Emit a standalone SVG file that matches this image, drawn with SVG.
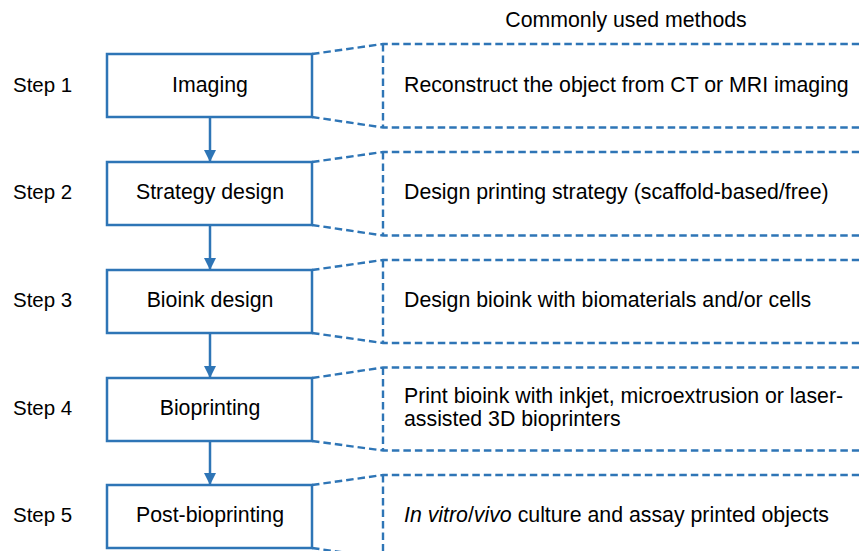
<svg xmlns="http://www.w3.org/2000/svg" width="859" height="551" viewBox="0 0 859 551">
<defs>
<style>
.t{font-family:"Liberation Sans",Arial,sans-serif;font-size:21.3px;fill:#000}
.s{font-size:20.5px}
.m{text-anchor:middle}
.box{fill:#fff;stroke:#2e75b6;stroke-width:2.5}
.d{fill:none;stroke:#2e75b6;stroke-width:2.4;stroke-dasharray:7.5 4}
.c{stroke:#2e75b6;stroke-width:2.5;fill:none}
</style>
<marker id="ah" markerWidth="13" markerHeight="12" refX="12" refY="6.5" orient="auto" markerUnits="userSpaceOnUse" viewBox="0 0 13 13">
<path d="M0,0 L13,6.5 L0,13 Z" fill="#2e75b6"/>
</marker>
</defs>
<rect width="859" height="551" fill="#fff"/>
<text class="t m" x="626" y="27">Commonly used methods</text>
<g id="connectors">
<line class="c" x1="210" y1="117" x2="210" y2="161" marker-end="url(#ah)"/>
<line class="c" x1="210" y1="225" x2="210" y2="269" marker-end="url(#ah)"/>
<line class="c" x1="210" y1="333" x2="210" y2="377" marker-end="url(#ah)"/>
<line class="c" x1="210" y1="441" x2="210" y2="484" marker-end="url(#ah)"/>
</g>
<g id="callouts">
<path class="d" d="M312,54 L383,44 L859,44 M312,117 L383,127.5 L859,127.5 M383,44 L383,127.5"/>
<path class="d" d="M312,162 L383,152 L859,152 M312,225 L383,235.5 L859,235.5 M383,152 L383,235.5"/>
<path class="d" d="M312,270 L383,260 L859,260 M312,333 L383,343 L859,343 M383,260 L383,343"/>
<path class="d" d="M312,378 L383,367.5 L859,367.5 M312,441 L383,450.5 L859,450.5 M383,367.5 L383,450.5"/>
<path class="d" d="M312,485 L383,475 L859,475 M312,548 L383,558 M383,475 L383,560"/>
</g>
<g id="step1">
<text class="t s" x="13" y="92">Step 1</text>
<rect class="box" x="107" y="54" width="205" height="63"/>
<text class="t m" x="210" y="92">Imaging</text>
<text class="t" x="404" y="92">Reconstruct the object from CT or MRI imaging</text>
</g>
<g id="step2">
<text class="t s" x="13" y="199">Step 2</text>
<rect class="box" x="107" y="162" width="205" height="63"/>
<text class="t m" x="210" y="199">Strategy design</text>
<text class="t" x="404" y="199">Design printing strategy (scaffold-based/free)</text>
</g>
<g id="step3">
<text class="t s" x="13" y="307">Step 3</text>
<rect class="box" x="107" y="270" width="205" height="63"/>
<text class="t m" x="210" y="307">Bioink design</text>
<text class="t" x="404" y="307">Design bioink with biomaterials and/or cells</text>
</g>
<g id="step4">
<text class="t s" x="13" y="415">Step 4</text>
<rect class="box" x="107" y="378" width="205" height="63"/>
<text class="t m" x="210" y="415">Bioprinting</text>
<text class="t" x="404" y="403">Print bioink with inkjet, microextrusion or laser-</text>
<text class="t" x="404" y="426">assisted 3D bioprinters</text>
</g>
<g id="step5">
<text class="t s" x="13" y="522">Step 5</text>
<rect class="box" x="107" y="485" width="205" height="63"/>
<text class="t m" x="210" y="522">Post-bioprinting</text>
<text class="t" x="404" y="522"><tspan font-style="italic">In vitro</tspan>/<tspan font-style="italic">vivo</tspan> culture and assay printed objects</text>
</g>
</svg>
